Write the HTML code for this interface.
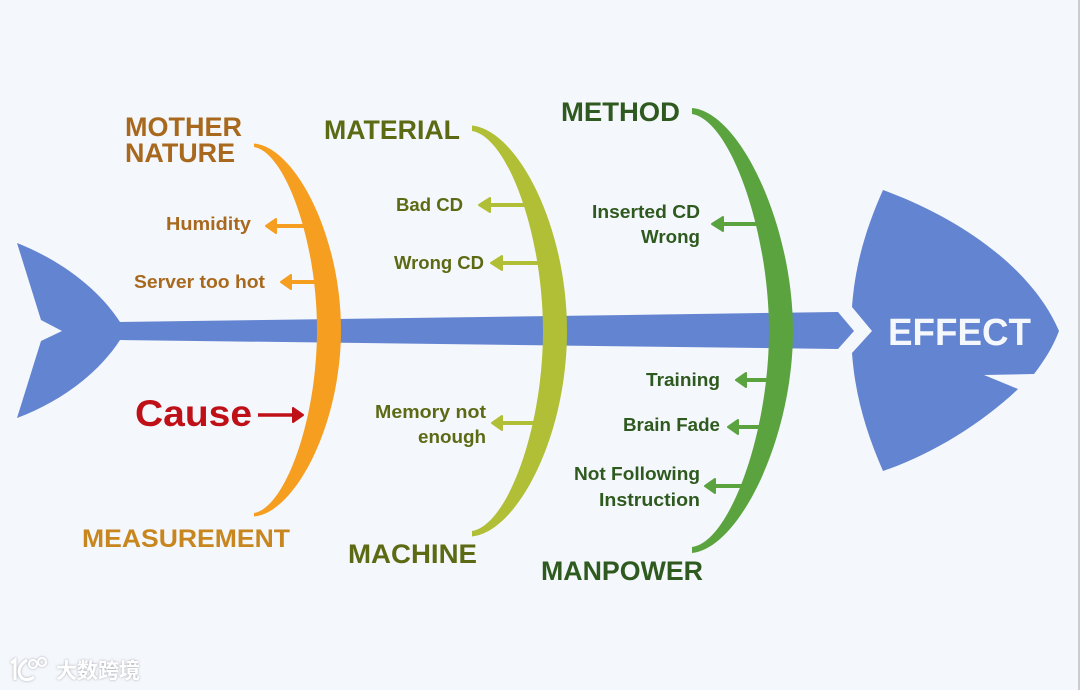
<!DOCTYPE html>
<html><head><meta charset="utf-8"><style>
html,body{margin:0;padding:0;background:#f4f7fc;width:1080px;height:690px;overflow:hidden}
svg{display:block;position:absolute;left:0;top:0}
text{font-family:"Liberation Sans","Noto Sans CJK SC",sans-serif;font-weight:bold}
</style></head><body>
<svg width="1080" height="690" viewBox="0 0 1080 690">
<defs>
<filter id="s" x="-10%" y="-30%" width="120%" height="160%"><feDropShadow dx="0" dy="0" stdDeviation="1.2" flood-color="#8d9096" flood-opacity="0.8"/></filter>
</defs>
<rect width="1080" height="690" fill="#f4f7fc"/>
<rect x="1078" y="0" width="2" height="690" fill="#c9ccd0"/>
<g fill="#6384d0">
<path d="M17 243 C60 260 98 288 120 322 L838 312 L854 331 L838 349 L120 340 C98 374 60 402 17 418 L41 341 L62 331 L41 320 Z"/>
<path d="M883 190 C960 218 1032 268 1059 331 C1053 347 1044 361 1034 374 L984 375 L1018 389 C980 425 930 455 883 471 C866 432 855 395 852 353 L872 331 L852 307 C855 265 866 228 883 190 Z"/>
</g>
<path d="M254 143.5 C295 147 341 235 341 330 C341 425 295 513 254 516.5 L254 513 C285 508 317 420 317 330 C317 240 285 152 254 147 Z" fill="#f59e20"/>
<path d="M472 125.5 C517 130 567 225 567 331 C567 437 517 532 472 536.5 L472 531 C508 525 543 427 543 331 C543 235 508 137 472 131 Z" fill="#b0bf35"/>
<path d="M692 108 C740 112 793 225 793 331 C793 437 740 548 692 553 L692 547 C730 542 769 432 769 331 C769 230 730 120 692 114 Z" fill="#5ba33f"/>
<g stroke-width="4" fill="none" stroke="#f59e20">
<path d="M275 226H304"/><path d="M290 282H315"/></g>
<g fill="#f59e20" stroke="#f59e20" stroke-width="2" stroke-linejoin="round"><path d="M266 226L276 219V233Z"/><path d="M281 282L291 275V289Z"/></g>
<g stroke-width="4" fill="none" stroke="#b0bf35">
<path d="M488 205H526"/><path d="M500 263H538"/><path d="M500 423H534"/></g>
<g fill="#b0bf35" stroke="#b0bf35" stroke-width="2" stroke-linejoin="round"><path d="M479 205L490 198V212Z"/><path d="M491 263L502 256V270Z"/><path d="M492 423L502 416V430Z"/></g>
<g stroke-width="4" fill="none" stroke="#5ba33f">
<path d="M720 224H757"/><path d="M745 380H768"/><path d="M737 427H760"/><path d="M714 486H742"/></g>
<g fill="#5ba33f" stroke="#5ba33f" stroke-width="2" stroke-linejoin="round"><path d="M712 224L723 217V231Z"/><path d="M736 380L746 373V387Z"/><path d="M728 427L738 420V434Z"/><path d="M705 486L715 479V493Z"/></g>
<path d="M258 415H293" stroke="#bf1018" stroke-width="3.5" fill="none"/>
<path d="M303 415L293 408V422Z" fill="#bf1018" stroke="#bf1018" stroke-width="2" stroke-linejoin="round"/>

<text x="888" y="345" font-size="38" fill="#f4f7fc" textLength="143" lengthAdjust="spacingAndGlyphs">EFFECT</text>
<text x="135" y="426" font-size="37" fill="#bf1018" textLength="117" lengthAdjust="spacingAndGlyphs">Cause</text>

<g fill="#a8691e">
<text x="125" y="136" font-size="27" textLength="117" lengthAdjust="spacingAndGlyphs">MOTHER</text>
<text x="125" y="162" font-size="27" textLength="110" lengthAdjust="spacingAndGlyphs">NATURE</text>
<text x="166" y="230" font-size="18" textLength="85" lengthAdjust="spacingAndGlyphs">Humidity</text>
<text x="134" y="288" font-size="18" textLength="131" lengthAdjust="spacingAndGlyphs">Server too hot</text>
</g>
<text x="82" y="547" font-size="25" fill="#c8861f" textLength="208" lengthAdjust="spacingAndGlyphs">MEASUREMENT</text>

<g fill="#5c6a14">
<text x="324" y="139" font-size="27" textLength="136" lengthAdjust="spacingAndGlyphs">MATERIAL</text>
<text x="396" y="211" font-size="18" textLength="67" lengthAdjust="spacingAndGlyphs">Bad CD</text>
<text x="394" y="269" font-size="18" textLength="90" lengthAdjust="spacingAndGlyphs">Wrong CD</text>
<text x="375" y="418" font-size="18" textLength="111" lengthAdjust="spacingAndGlyphs">Memory not</text>
<text x="418" y="443" font-size="18" textLength="68" lengthAdjust="spacingAndGlyphs">enough</text>
<text x="348" y="563" font-size="27" textLength="129" lengthAdjust="spacingAndGlyphs">MACHINE</text>
</g>

<g fill="#2f5a1f">
<text x="561" y="121" font-size="27" textLength="119" lengthAdjust="spacingAndGlyphs">METHOD</text>
<text x="592" y="218" font-size="18" textLength="108" lengthAdjust="spacingAndGlyphs">Inserted CD</text>
<text x="641" y="243" font-size="18" textLength="59" lengthAdjust="spacingAndGlyphs">Wrong</text>
<text x="646" y="386" font-size="18" textLength="74" lengthAdjust="spacingAndGlyphs">Training</text>
<text x="623" y="431" font-size="18" textLength="97" lengthAdjust="spacingAndGlyphs">Brain Fade</text>
<text x="574" y="480" font-size="18" textLength="126" lengthAdjust="spacingAndGlyphs">Not Following</text>
<text x="599" y="506" font-size="18" textLength="101" lengthAdjust="spacingAndGlyphs">Instruction</text>
<text x="541" y="580" font-size="27" textLength="162" lengthAdjust="spacingAndGlyphs">MANPOWER</text>
</g>

<g filter="url(#s)">
<text x="56" y="678" font-size="21" fill="#ffffff" textLength="84" lengthAdjust="spacingAndGlyphs">大数跨境</text>
<g fill="none" stroke="#ffffff" stroke-width="3">
<path d="M11 663L15 660V680"/><path d="M27 660C19 665 17 672 21 677 C24 681 30 680 34 677"/>
<circle cx="33" cy="664" r="4" stroke-width="2"/><circle cx="42" cy="662" r="4" stroke-width="2"/>
</g>
</g>
</svg>
</body></html>
